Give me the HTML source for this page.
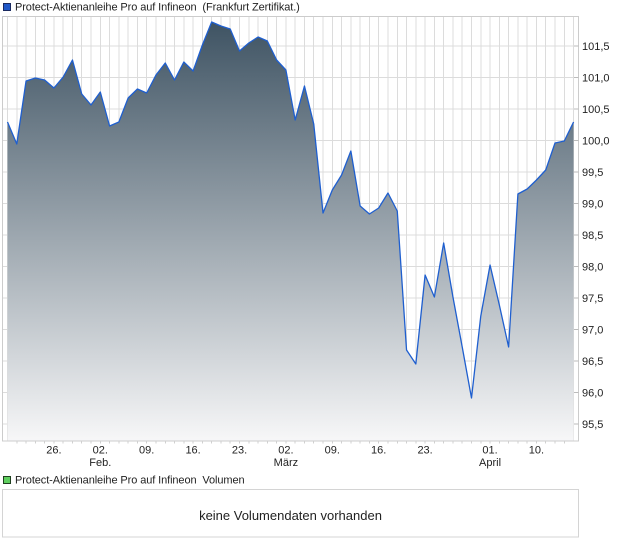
<!DOCTYPE html>
<html>
<head>
<meta charset="utf-8">
<style>
  html,body{margin:0;padding:0;background:#fff;}
  svg{display:block;}
  text{font-family:"Liberation Sans",Arial,sans-serif;fill:#222;}
</style>
</head>
<body>
<svg width="620" height="546" viewBox="0 0 620 546" xmlns="http://www.w3.org/2000/svg">
  <defs>
    <linearGradient id="g" x1="0" y1="16" x2="0" y2="441" gradientUnits="userSpaceOnUse">
      <stop offset="0" stop-color="#3c5161"/>
      <stop offset="1" stop-color="#f7f7f8"/>
    </linearGradient>
  </defs>

  <!-- top legend -->
  <rect x="3.5" y="3.5" width="7" height="7" fill="#2058c8" stroke="#1a2a60" stroke-width="1"/>
  <text x="15" y="10.5" font-size="11" letter-spacing="-0.1" xml:space="preserve">Protect-Aktienanleihe Pro auf Infineon  (Frankfurt Zertifikat.)</text>

  <!-- grid -->
  <g stroke="#dcdcdc" stroke-width="1" shape-rendering="crispEdges">
    <line x1="2.5" y1="46" x2="578.5" y2="46"/>
    <line x1="2.5" y1="77.5" x2="578.5" y2="77.5"/>
    <line x1="2.5" y1="109" x2="578.5" y2="109"/>
    <line x1="2.5" y1="140.5" x2="578.5" y2="140.5"/>
    <line x1="2.5" y1="172" x2="578.5" y2="172"/>
    <line x1="2.5" y1="203.5" x2="578.5" y2="203.5"/>
    <line x1="2.5" y1="235" x2="578.5" y2="235"/>
    <line x1="2.5" y1="266.5" x2="578.5" y2="266.5"/>
    <line x1="2.5" y1="298" x2="578.5" y2="298"/>
    <line x1="2.5" y1="329.5" x2="578.5" y2="329.5"/>
    <line x1="2.5" y1="361" x2="578.5" y2="361"/>
    <line x1="2.5" y1="392.5" x2="578.5" y2="392.5"/>
    <line x1="2.5" y1="424" x2="578.5" y2="424"/>
    <path d="M7.5 16V441M16.78 16V441M26.06 16V441M35.34 16V441M44.62 16V441M53.9 16V441M63.18 16V441M72.46 16V441M81.74 16V441M91.02 16V441M100.3 16V441M109.58 16V441M118.86 16V441M128.14 16V441M137.42 16V441M146.7 16V441M155.98 16V441M165.26 16V441M174.54 16V441M183.82 16V441M193.1 16V441M202.38 16V441M211.66 16V441M220.94 16V441M230.22 16V441M239.5 16V441M248.78 16V441M258.06 16V441M267.34 16V441M276.62 16V441M285.9 16V441M295.18 16V441M304.46 16V441M313.74 16V441M323.02 16V441M332.3 16V441M341.58 16V441M350.86 16V441M360.14 16V441M369.42 16V441M378.7 16V441M387.98 16V441M397.26 16V441M406.54 16V441M415.82 16V441M425.1 16V441M434.38 16V441M443.66 16V441M452.94 16V441M462.22 16V441M471.5 16V441M480.78 16V441M490.06 16V441M499.34 16V441M508.62 16V441M517.9 16V441M527.18 16V441M536.46 16V441M545.74 16V441M555.02 16V441M564.3 16V441M573.58 16V441"/>
  </g>

  <!-- area -->
  <polygon fill="url(#g)" points="7.5,441 7.5,122 16.78,144 26.06,81 35.34,78 44.62,80 53.9,88 63.18,77 72.46,60 81.74,94 91.02,105 100.3,92 109.58,126 118.86,122 128.14,98 137.42,89 146.7,93 155.98,75 165.26,63 174.54,80 183.82,62 193.1,71 202.38,45 211.66,22 220.94,26 230.22,29 239.5,51 248.78,43 258.06,37 267.34,41 276.62,60 285.9,70 295.18,120 304.46,86 313.74,124 323.02,213 332.3,190 341.58,175 350.86,151 360.14,206 369.42,214 378.7,208 387.98,193 397.26,211 406.54,350 415.82,364 425.1,275 434.38,297 443.66,243 452.94,297 462.22,347 471.5,398 480.78,316 490.06,265 499.34,305 508.62,347 517.9,194 527.18,189 536.46,180 545.74,170 555.02,143 564.3,141 573.58,122 573.58,441"/>
  <polyline fill="none" stroke="#1f5fcf" stroke-width="1.3" stroke-linejoin="round" points="7.5,122 16.78,144 26.06,81 35.34,78 44.62,80 53.9,88 63.18,77 72.46,60 81.74,94 91.02,105 100.3,92 109.58,126 118.86,122 128.14,98 137.42,89 146.7,93 155.98,75 165.26,63 174.54,80 183.82,62 193.1,71 202.38,45 211.66,22 220.94,26 230.22,29 239.5,51 248.78,43 258.06,37 267.34,41 276.62,60 285.9,70 295.18,120 304.46,86 313.74,124 323.02,213 332.3,190 341.58,175 350.86,151 360.14,206 369.42,214 378.7,208 387.98,193 397.26,211 406.54,350 415.82,364 425.1,275 434.38,297 443.66,243 452.94,297 462.22,347 471.5,398 480.78,316 490.06,265 499.34,305 508.62,347 517.9,194 527.18,189 536.46,180 545.74,170 555.02,143 564.3,141 573.58,122"/>

  <!-- frame -->
  <g stroke="#cccccc" stroke-width="1" fill="none" shape-rendering="crispEdges">
    <rect x="2.5" y="16.5" width="576" height="424.5"/>
    <path d="M574 46H578.5M574 77.5H578.5M574 109H578.5M574 140.5H578.5M574 172H578.5M574 203.5H578.5M574 235H578.5M574 266.5H578.5M574 298H578.5M574 329.5H578.5M574 361H578.5M574 392.5H578.5M574 424H578.5" stroke="#bbbbbb"/>
    <path d="M16.78 441V443.5M26.06 441V443.5M35.34 441V443.5M44.62 441V443.5M53.9 441V443.5M63.18 441V443.5M72.46 441V443.5M81.74 441V443.5M91.02 441V443.5M100.3 441V443.5M109.58 441V443.5M118.86 441V443.5M128.14 441V443.5M137.42 441V443.5M146.7 441V443.5M155.98 441V443.5M165.26 441V443.5M174.54 441V443.5M183.82 441V443.5M193.1 441V443.5M202.38 441V443.5M211.66 441V443.5M220.94 441V443.5M230.22 441V443.5M239.5 441V443.5M248.78 441V443.5M258.06 441V443.5M267.34 441V443.5M276.62 441V443.5M285.9 441V443.5M295.18 441V443.5M304.46 441V443.5M313.74 441V443.5M323.02 441V443.5M332.3 441V443.5M341.58 441V443.5M350.86 441V443.5M360.14 441V443.5M369.42 441V443.5M378.7 441V443.5M387.98 441V443.5M397.26 441V443.5M406.54 441V443.5M415.82 441V443.5M425.1 441V443.5M434.38 441V443.5M443.66 441V443.5M452.94 441V443.5M462.22 441V443.5M471.5 441V443.5M480.78 441V443.5M490.06 441V443.5M499.34 441V443.5M508.62 441V443.5M517.9 441V443.5M527.18 441V443.5M536.46 441V443.5M545.74 441V443.5M555.02 441V443.5M564.3 441V443.5" stroke="#d0d0d0"/>
  </g>

  <!-- right axis labels -->
  <g font-size="11">
    <text x="582" y="50">101,5</text>
    <text x="582" y="81.5">101,0</text>
    <text x="582" y="113">100,5</text>
    <text x="582" y="144.5">100,0</text>
    <text x="582" y="176">99,5</text>
    <text x="582" y="207.5">99,0</text>
    <text x="582" y="239">98,5</text>
    <text x="582" y="270.5">98,0</text>
    <text x="582" y="302">97,5</text>
    <text x="582" y="333.5">97,0</text>
    <text x="582" y="365">96,5</text>
    <text x="582" y="396.5">96,0</text>
    <text x="582" y="428">95,5</text>
  </g>

  <!-- x axis labels -->
  <g font-size="11" text-anchor="middle">
    <text x="53.9" y="453.5">26.</text>
    <text x="100.3" y="453.5">02.</text>
    <text x="100.3" y="466">Feb.</text>
    <text x="146.7" y="453.5">09.</text>
    <text x="193.1" y="453.5">16.</text>
    <text x="239.5" y="453.5">23.</text>
    <text x="285.9" y="453.5">02.</text>
    <text x="285.9" y="466">März</text>
    <text x="332.3" y="453.5">09.</text>
    <text x="378.7" y="453.5">16.</text>
    <text x="425.1" y="453.5">23.</text>
    <text x="490.06" y="453.5">01.</text>
    <text x="490.06" y="466">April</text>
    <text x="536.46" y="453.5">10.</text>
  </g>

  <!-- volume legend -->
  <rect x="3.5" y="476.5" width="7" height="7" fill="#5fcf5f" stroke="#1f3f1f" stroke-width="1"/>
  <text x="15" y="483.5" font-size="11" letter-spacing="-0.1" xml:space="preserve">Protect-Aktienanleihe Pro auf Infineon  Volumen</text>

  <!-- volume box -->
  <rect x="2.5" y="489.5" width="576" height="47.5" fill="#fff" stroke="#d4d4d4" stroke-width="1" shape-rendering="crispEdges"/>
  <text x="290.5" y="520" font-size="13" text-anchor="middle" fill="#111">keine Volumendaten vorhanden</text>
</svg>
</body>
</html>
